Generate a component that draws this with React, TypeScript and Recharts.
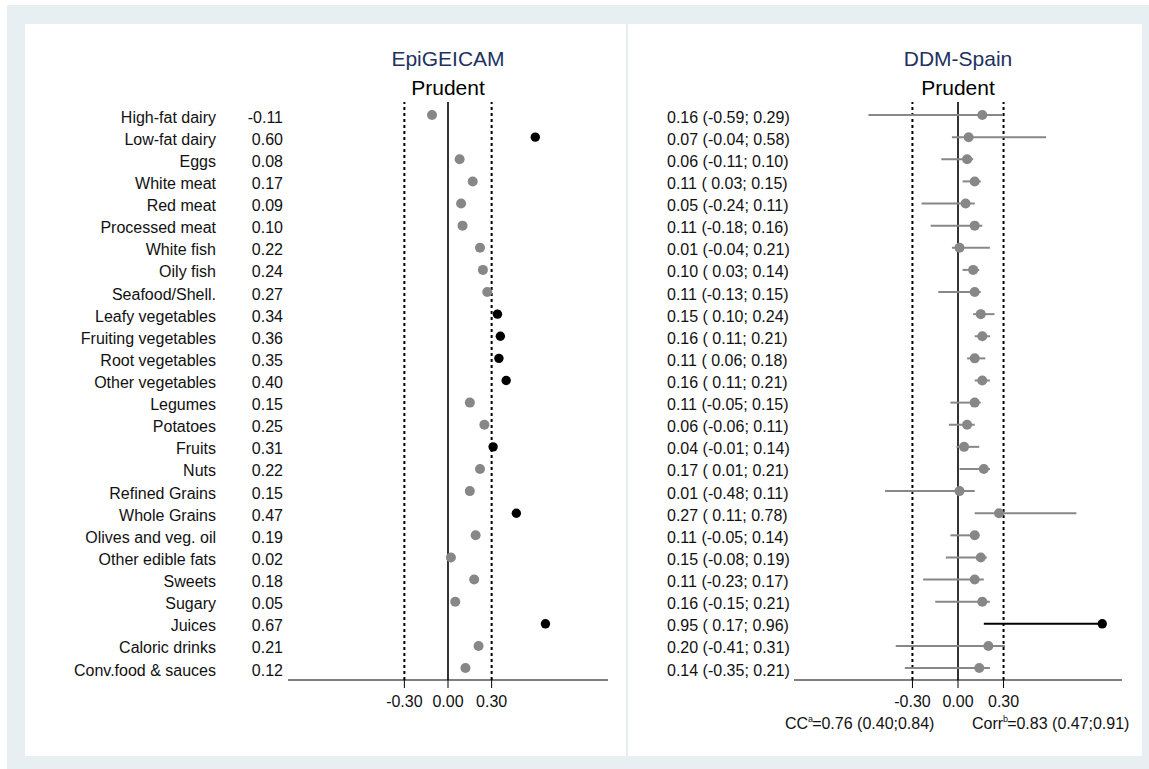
import React from "react";
import { ScatterChart, Scatter, XAxis, YAxis, ReferenceLine, ErrorBar } from "recharts";

// food groups, top to bottom
const foods = [
  "High-fat dairy", "Low-fat dairy", "Eggs", "White meat", "Red meat", "Processed meat",
  "White fish", "Oily fish", "Seafood/Shell.", "Leafy vegetables", "Fruiting vegetables",
  "Root vegetables", "Other vegetables", "Legumes", "Potatoes", "Fruits", "Nuts",
  "Refined Grains", "Whole Grains", "Olives and veg. oil", "Other edible fats", "Sweets",
  "Sugary", "Juices", "Caloric drinks", "Conv.food & sauces",
];

// EpiGEICAM factor loadings
const epiValues = [
  -0.11, 0.6, 0.08, 0.17, 0.09, 0.1, 0.22, 0.24, 0.27, 0.34, 0.36, 0.35, 0.4,
  0.15, 0.25, 0.31, 0.22, 0.15, 0.47, 0.19, 0.02, 0.18, 0.05, 0.67, 0.21, 0.12,
];

// DDM-Spain loadings with intervals
const ddmValues = [
  0.16, 0.07, 0.06, 0.11, 0.05, 0.11, 0.01, 0.1, 0.11, 0.15, 0.16, 0.11, 0.16,
  0.11, 0.06, 0.04, 0.17, 0.01, 0.27, 0.11, 0.15, 0.11, 0.16, 0.95, 0.2, 0.14,
];
const ddmLower = [
  -0.59, -0.04, -0.11, 0.03, -0.24, -0.18, -0.04, 0.03, -0.13, 0.1, 0.11, 0.06, 0.11,
  -0.05, -0.06, -0.01, 0.01, -0.48, 0.11, -0.05, -0.08, -0.23, -0.15, 0.17, -0.41, -0.35,
];
const ddmUpper = [
  0.29, 0.58, 0.1, 0.15, 0.11, 0.16, 0.21, 0.14, 0.15, 0.24, 0.21, 0.18, 0.21,
  0.15, 0.11, 0.14, 0.21, 0.11, 0.78, 0.14, 0.19, 0.17, 0.21, 0.96, 0.31, 0.21,
];

const xTicks = [-0.3, 0, 0.3];
const cutoff = 0.3;

const FONT = '"Liberation Sans", Arial, Helvetica, sans-serif';
const GREY = "#878787";
const NAVY = "#22315e";

const rowTicks = foods.map((_, i) => i + 1);
const epiRows = foods.map((name, i) => ({ name, row: i + 1, v: epiValues[i] }));
const ddmRows = foods.map((name, i) => ({
  name,
  row: i + 1,
  v: ddmValues[i],
  err: [ddmValues[i] - ddmLower[i], ddmUpper[i] - ddmValues[i]],
}));

const fmt = (n: number) => n.toFixed(2);
const ciText = (i: number) =>
  `${fmt(ddmValues[i])} (${ddmLower[i] < 0 ? "" : " "}${fmt(ddmLower[i])}; ${fmt(ddmUpper[i])})`;

const dot = (fill: string, r: number) => (p: any) =>
  <circle cx={p.cx} cy={p.cy} r={r} fill={fill} />;

const EpiTick = (p: any) => {
  const i = p.payload.value - 1;
  return (
    <g fontFamily={FONT} fontSize={16} fill="#111">
      <text x={216} y={p.y + 2} textAnchor="end" dominantBaseline="central">{foods[i]}</text>
      <text x={283} y={p.y + 2} textAnchor="end" dominantBaseline="central">{fmt(epiValues[i])}</text>
    </g>
  );
};

const DdmTick = (p: any) => {
  const i = p.payload.value - 1;
  return (
    <text x={39} y={p.y + 2} fontFamily={FONT} fontSize={16} fill="#111" dominantBaseline="central" style={{ whiteSpace: "pre" }}>
      {ciText(i)}
    </text>
  );
};

const H = 740;
const margin = { top: 102, right: 0, bottom: 0, left: 0 };

function RefLines() {
  return null;
}

const heading = (x: number, y: number, text: string, color: string) => (
  <div
    style={{
      position: "absolute", left: x - 150, top: y - 13, width: 300, textAlign: "center",
      fontFamily: FONT, fontSize: 21, color, lineHeight: "26px",
    }}
  >
    {text}
  </div>
);

export default function App() {
  const axisTick = { fontFamily: FONT, fontSize: 16, fill: "#111" };
  return (
    <div style={{ position: "absolute", left: 0, top: 0, width: 1149, height: 769, background: "#fff", overflow: "hidden" }}>
      <div style={{ position: "absolute", left: 7, top: 5, right: 0, bottom: 0, background: "#e8eff2" }} />
      <div style={{ position: "absolute", left: 25, top: 24, width: 1117, height: 732, background: "#fff" }} />
      <div style={{ position: "absolute", left: 626, top: 24, width: 2, height: 732, background: "#e6ecef" }} />

      {heading(448, 59, "EpiGEICAM", NAVY)}
      {heading(448, 88, "Prudent", "#000")}
      {heading(958, 59, "DDM-Spain", NAVY)}
      {heading(958, 88, "Prudent", "#000")}

      <div style={{ position: "absolute", left: 0, top: 0 }}>
        <ScatterChart width={628} height={H} margin={{ ...margin, right: 20 }}>
          <XAxis
            type="number" dataKey="v" domain={[-1.1, 1.1]} allowDataOverflow ticks={xTicks} interval={0}
            tickFormatter={fmt} height={60} tickSize={8} tickMargin={8}
            stroke="#000" tick={axisTick}
          />
          <YAxis
            type="number" dataKey="row" domain={[0.41, 26.54]} allowDataOverflow reversed
            ticks={rowTicks} interval={0} width={288} axisLine={false} tickLine={false} tick={<EpiTick />}
          />
          <ReferenceLine x={-cutoff} stroke="#000" strokeWidth={2} strokeDasharray="3 3" />
          <ReferenceLine x={cutoff} stroke="#000" strokeWidth={2} strokeDasharray="3 3" />
          <ReferenceLine x={0} stroke="#000" strokeWidth={1.6} />
          <Scatter data={epiRows.filter((d) => d.v <= cutoff)} shape={dot(GREY, 5)} isAnimationActive={false} />
          <Scatter data={epiRows.filter((d) => d.v > cutoff)} shape={dot("#000", 4.7)} isAnimationActive={false} />
        </ScatterChart>
      </div>

      <div style={{ position: "absolute", left: 628, top: 0 }}>
        <ScatterChart width={521} height={H} margin={{ ...margin, right: 27 }}>
          <XAxis
            type="number" dataKey="v" domain={[-1.08, 1.08]} allowDataOverflow ticks={xTicks} interval={0}
            tickFormatter={fmt} height={60} tickSize={8} tickMargin={8}
            stroke="#000" tick={axisTick}
          />
          <YAxis
            type="number" dataKey="row" domain={[0.41, 26.54]} allowDataOverflow reversed
            ticks={rowTicks} interval={0} width={166} axisLine={false} tickLine={false} tick={<DdmTick />}
          />
          <ReferenceLine x={-cutoff} stroke="#000" strokeWidth={2} strokeDasharray="3 3" />
          <ReferenceLine x={cutoff} stroke="#000" strokeWidth={2} strokeDasharray="3 3" />
          <ReferenceLine x={0} stroke="#000" strokeWidth={1.6} />
          <Scatter data={ddmRows.filter((d) => d.v <= cutoff)} shape={dot(GREY, 5)} isAnimationActive={false}>
            <ErrorBar dataKey="err" direction="x" width={0} stroke={GREY} strokeWidth={2} />
          </Scatter>
          <Scatter data={ddmRows.filter((d) => d.v > cutoff)} shape={dot("#000", 4.7)} isAnimationActive={false}>
            <ErrorBar dataKey="err" direction="x" width={0} stroke="#000" strokeWidth={2} />
          </Scatter>
        </ScatterChart>
      </div>

      <div style={{ position: "absolute", left: 785, top: 714, fontFamily: FONT, fontSize: 16, color: "#111", lineHeight: "20px", whiteSpace: "pre" }}>
        CC<span style={{ fontSize: 9, position: "relative", top: -7, marginRight: -1 }}>a</span>=0.76 (0.40;0.84)
      </div>
      <div style={{ position: "absolute", left: 972, top: 714, fontFamily: FONT, fontSize: 16, color: "#111", lineHeight: "20px", whiteSpace: "pre" }}>
        Corr<span style={{ fontSize: 9, position: "relative", top: -7, marginRight: -1 }}>b</span>=0.83 (0.47;0.91)
      </div>
    </div>
  );
}
